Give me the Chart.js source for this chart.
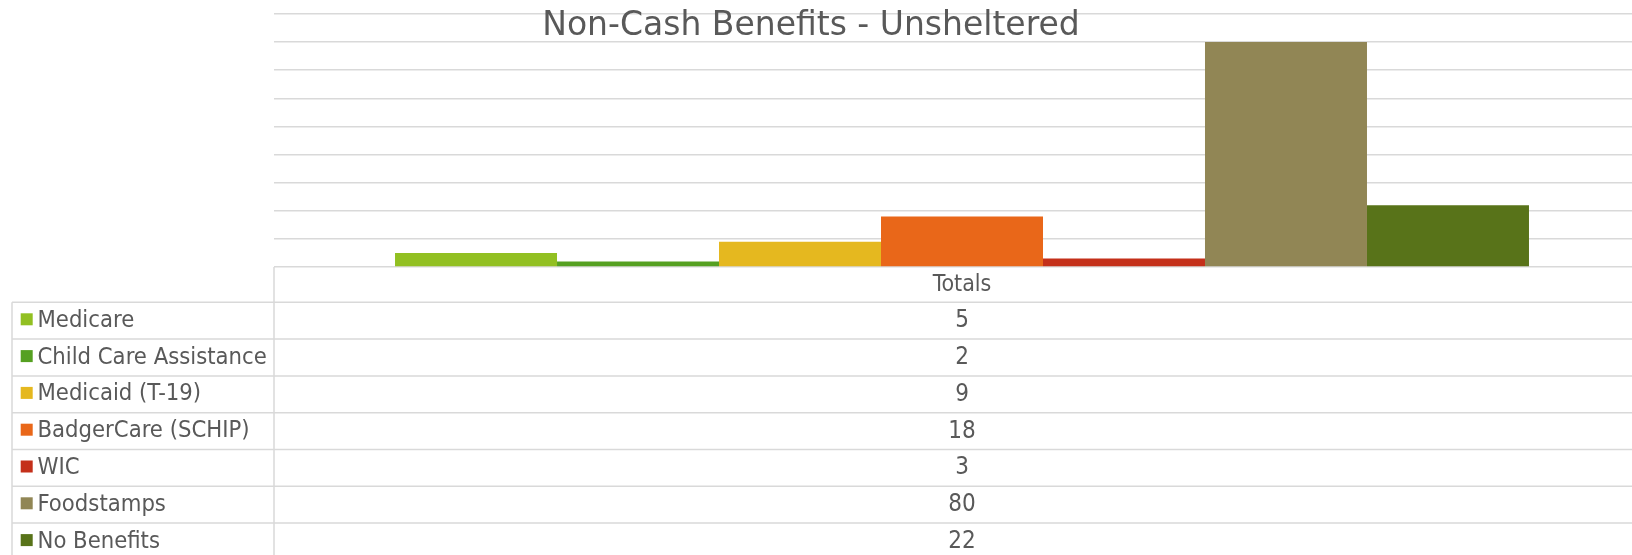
<!DOCTYPE html>
<html>
<head>
<meta charset="utf-8">
<script src="https://cdn.jsdelivr.net/npm/chart.js@4"></script>
<style>
  html, body { margin: 0; padding: 0; background: #ffffff; overflow: hidden; width: 1632px; height: 555px; }
  #wrap { position: absolute; left: 0; top: 0; width: 1680px; height: 555px; }
</style>
</head>
<body>
<div id="wrap"><canvas id="c" width="1680" height="555"></canvas></div>
<script>
const chartTitle = 'Non-Cash Benefits - Unsheltered';
const columnLabel = 'Totals';
const categories = ['Medicare', 'Child Care Assistance', 'Medicaid (T-19)', 'BadgerCare (SCHIP)', 'WIC', 'Foodstamps', 'No Benefits'];
const values = [5, 2, 9, 18, 3, 80, 22];
const colors = ['#92C022', '#55A021', '#E5B81F', '#E96719', '#C4301A', '#918655', '#587319'];
const yMin = 0, yMax = 90, yStep = 10;

const TEXT = '#595959';
const LINE = '#d9d9d9';
const FONT = '"DejaVu Sans Condensed", "DejaVu Sans", sans-serif';

const tablePlugin = {
  id: 'tablePlugin',
  afterDraw(chart) {
    const ctx = chart.ctx;
    const area = chart.chartArea;
    const xs = chart.scales.x;
    const cx = xs.getPixelForValue(0);
    ctx.save();
    // title
    ctx.fillStyle = TEXT;
    ctx.font = '33px "DejaVu Sans", sans-serif';
    ctx.textAlign = 'center';
    ctx.textBaseline = 'alphabetic';
    ctx.fillText(chartTitle, 811, 35);

    // table lines
    const leftX = 12;
    const divX = area.left;
    const rightX = chart.width;
    const headTop = area.bottom;
    const firstRow = 302.3;
    const rowH = 36.8;
    ctx.strokeStyle = LINE;
    ctx.lineWidth = 1.5;
    ctx.beginPath();
    ctx.moveTo(divX, headTop); ctx.lineTo(divX, 555);
    ctx.moveTo(leftX, firstRow); ctx.lineTo(leftX, 555);
    for (let i = 0; i <= categories.length; i++) {
      const y = firstRow + i * rowH;
      ctx.moveTo(leftX, y); ctx.lineTo(rightX, y);
    }
    ctx.stroke();

    // header text
    ctx.fillStyle = TEXT;
    ctx.font = '23px ' + FONT;
    ctx.textAlign = 'center';
    ctx.textBaseline = 'alphabetic';
    ctx.fillText(columnLabel, cx, 290.7);

    // rows
    for (let i = 0; i < categories.length; i++) {
      const top = firstRow + i * rowH;
      const base = top + 24.4;
      ctx.fillStyle = colors[i];
      ctx.fillRect(20.7, top + 11, 12, 12);
      ctx.fillStyle = TEXT;
      ctx.textAlign = 'left';
      ctx.font = '23.6px ' + FONT;
      ctx.fillText(categories[i], 37.5, base);
      ctx.textAlign = 'center';
      ctx.font = '24px ' + FONT;
      ctx.fillText(String(values[i]), cx, base + 0.5);
    }
    ctx.restore();
  }
};

new Chart(document.getElementById('c'), {
  type: 'bar',
  data: {
    labels: [columnLabel],
    datasets: categories.map((name, i) => ({
      label: name,
      data: [values[i]],
      backgroundColor: colors[i],
      borderWidth: 0,
      categoryPercentage: 0.8241,
      barPercentage: 1.0
    }))
  },
  options: {
    responsive: false,
    animation: false,
    devicePixelRatio: 1,
    layout: { padding: { left: 274, right: 30, top: 14, bottom: 288 } },
    plugins: { legend: { display: false }, tooltip: { enabled: false }, title: { display: false } },
    scales: {
      x: { display: false },
      y: {
        min: yMin, max: yMax,
        ticks: { display: false, stepSize: yStep },
        grid: { color: LINE, lineWidth: 1.5, drawTicks: false },
        border: { display: false }
      }
    }
  },
  plugins: [tablePlugin]
});
</script>
</body>
</html>
